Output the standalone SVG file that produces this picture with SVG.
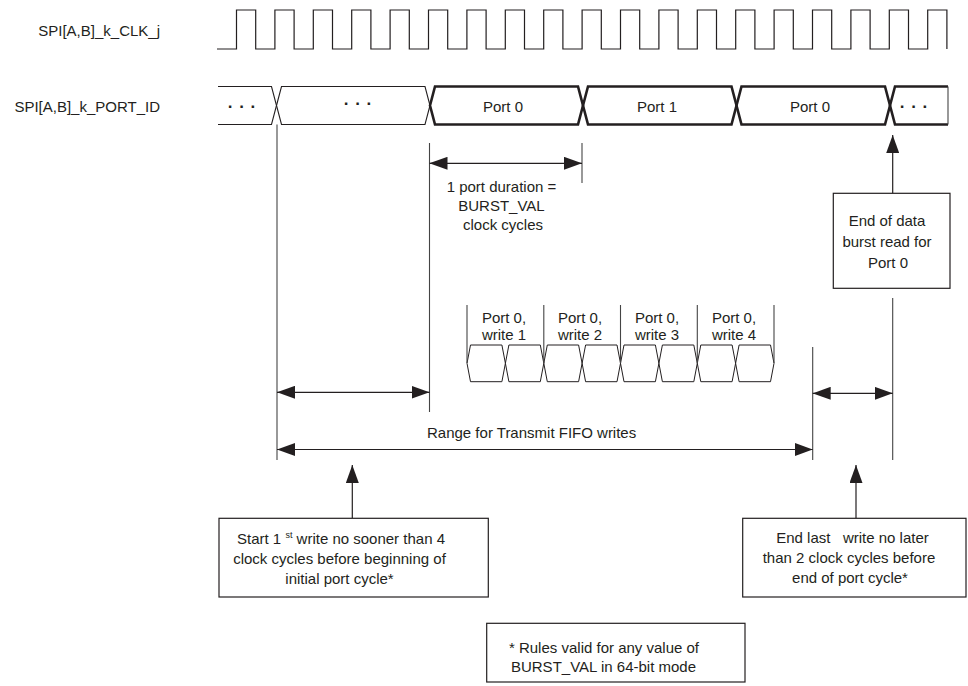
<svg xmlns="http://www.w3.org/2000/svg" width="968" height="686" viewBox="0 0 968 686">
<defs>
<marker id="ah" markerUnits="userSpaceOnUse" markerWidth="18" markerHeight="13" refX="18" refY="6.5" orient="auto-start-reverse" viewBox="0 0 18 13">
<path d="M0,0 L18,6.5 L0,13 z" fill="#231f20"/>
</marker>
</defs>
<style>
text{font-family:"Liberation Sans",Arial,Helvetica,sans-serif;font-size:15px;fill:#231f20}
.c{text-anchor:middle}
.e{text-anchor:end}
.dots{font-size:17px;font-weight:bold;letter-spacing:1px}
.sig{fill:none;stroke:#231f20;stroke-width:1.2}
.bus{fill:none;stroke:#231f20;stroke-width:1.1}
.busb{fill:none;stroke:#231f20;stroke-width:2.6;stroke-linejoin:miter}
.hex{fill:none;stroke:#231f20;stroke-width:1}
.vl{fill:none;stroke:#444;stroke-width:1.1}
.arr{fill:none;stroke:#231f20;stroke-width:1.2;marker-start:url(#ah);marker-end:url(#ah)}
.up{fill:none;stroke:#231f20;stroke-width:1.2;marker-end:url(#ah)}
.box{fill:#fff;stroke:#231f20;stroke-width:1.2}
</style>

<g id="labels">
<text class="e" x="160" y="35.5">SPI[A,B]_k_CLK_j</text>
<text class="e" x="160" y="111.5">SPI[A,B]_k_PORT_ID</text>
</g>

<g id="clk">
<path class="sig" d="M217,49 H236.5 V10 H255.7 V49 H274.9 V10 H294.1 V49 H313.3 V10 H332.5 V49 H351.7 V10 H370.9 V49 H390.1 V10 H409.3 V49 H428.5 V10 H447.7 V49 H466.9 V10 H486.1 V49 H505.3 V10 H524.5 V49 H543.7 V10 H562.9 V49 H582.1 V10 H601.3 V49 H620.5 V10 H639.7 V49 H658.9 V10 H678.1 V49 H697.3 V10 H716.5 V49 H735.7 V10 H754.9 V49 H774.1 V10 H793.3 V49 H812.5 V10 H831.7 V49 H850.9 V10 H870.1 V49 H889.3 V10 H908.5 V49 H927.7 V10 H946.9 V49"/>
</g>

<g id="port-id">
<path class="bus" d="M218,86.5 H271.5 L276.5,105.5 L271.5,124.5 H218"/>
<text class="c dots" x="242" y="108">. . .</text>
<polygon class="bus" points="276.5,105.5 281.5,86.5 425,86.5 430,105.5 425,124.5 281.5,124.5"/>
<text class="c dots" x="358" y="104.5">. . .</text>
<polygon class="busb" points="430,105.5 435,86.5 578,86.5 583,105.5 578,124.5 435,124.5"/>
<text class="c" x="503" y="111.5">Port 0</text>
<polygon class="busb" points="583,105.5 588,86.5 731.5,86.5 736.5,105.5 731.5,124.5 588,124.5"/>
<text class="c" x="657" y="111.5">Port 1</text>
<polygon class="busb" points="736.5,105.5 741.5,86.5 885,86.5 890,105.5 885,124.5 741.5,124.5"/>
<text class="c" x="810" y="111.5">Port 0</text>
<path class="busb" d="M948,86.5 H895 L890,105.5 L895,124.5 H948"/>
<line class="vl" x1="948" y1="86.5" x2="948" y2="124.5" stroke-width="0.8"/>
<text class="c dots" x="914" y="108">. . .</text>
</g>

<g id="writes">
<polygon class="hex" points="467,363.3 470.5,345 501.9,345 505.4,363.3 501.9,381.7 470.5,381.7"/>
<polygon class="hex" points="505.4,363.3 508.9,345 540.3,345 543.8,363.3 540.3,381.7 508.9,381.7"/>
<polygon class="hex" points="543.8,363.3 547.3,345 578.6,345 582.1,363.3 578.6,381.7 547.3,381.7"/>
<polygon class="hex" points="582.1,363.3 585.6,345 617,345 620.5,363.3 617,381.7 585.6,381.7"/>
<polygon class="hex" points="620.5,363.3 624,345 655.4,345 658.9,363.3 655.4,381.7 624,381.7"/>
<polygon class="hex" points="658.9,363.3 662.4,345 693.8,345 697.3,363.3 693.8,381.7 662.4,381.7"/>
<polygon class="hex" points="697.3,363.3 700.8,345 732.1,345 735.6,363.3 732.1,381.7 700.8,381.7"/>
<polygon class="hex" points="735.6,363.3 739.1,345 770.5,345 774,363.3 770.5,381.7 739.1,381.7"/>
<line class="vl" x1="467" y1="305" x2="467" y2="363"/>
<line class="vl" x1="543.8" y1="305" x2="543.8" y2="363"/>
<line class="vl" x1="620.5" y1="305" x2="620.5" y2="363"/>
<line class="vl" x1="697.3" y1="305" x2="697.3" y2="363"/>
<line class="vl" x1="774" y1="305" x2="774" y2="363"/>
<text class="c" x="504" y="322.5">Port 0,</text>
<text class="c" x="504" y="340">write 1</text>
<text class="c" x="580" y="322.5">Port 0,</text>
<text class="c" x="580" y="340">write 2</text>
<text class="c" x="657" y="322.5">Port 0,</text>
<text class="c" x="657" y="340">write 3</text>
<text class="c" x="734" y="322.5">Port 0,</text>
<text class="c" x="734" y="340">write 4</text>
</g>

<g id="connectors">
<line class="vl" x1="277" y1="124.5" x2="277" y2="460"/>
<line class="vl" x1="429.5" y1="143" x2="429.5" y2="412"/>
<line class="vl" x1="582" y1="143" x2="582" y2="183"/>
<line class="vl" x1="812.7" y1="347" x2="812.7" y2="460"/>
<line class="vl" x1="892.7" y1="298" x2="892.7" y2="460"/>
<line class="arr" x1="429.5" y1="163.3" x2="582" y2="163.3"/>
<line class="arr" x1="277" y1="392.3" x2="429.5" y2="392.3"/>
<line class="arr" x1="277" y1="449.5" x2="812.7" y2="449.5"/>
<line class="arr" x1="812.7" y1="393.3" x2="892.7" y2="393.3"/>
<line class="up" x1="892.7" y1="193.3" x2="892.7" y2="135"/>
<line class="up" x1="352.3" y1="518.3" x2="352.3" y2="465"/>
<line class="up" x1="856" y1="518.3" x2="856" y2="465"/>
</g>

<g id="duration-label">
<text class="c" x="501.5" y="192">1 port duration =</text>
<text class="c" x="501.5" y="211">BURST_VAL</text>
<text class="c" x="503" y="230">clock cycles</text>
</g>

<g id="range-label">
<text x="427" y="438">Range for Transmit FIFO writes</text>
</g>

<g id="end-of-burst">
<rect class="box" x="833.3" y="193.3" width="116.7" height="95"/>
<text class="c" x="887" y="226">End of data</text>
<text class="c" x="887" y="247">burst read for</text>
<text class="c" x="888" y="268">Port 0</text>
</g>

<g id="start-rule">
<rect class="box" x="219" y="518.3" width="269.3" height="78.7"/>
<text class="c" x="341" y="544">Start 1 <tspan font-size="9" dy="-6">st</tspan><tspan dy="6"> write no sooner than 4</tspan></text>
<text class="c" x="339.5" y="564">clock cycles before beginning of</text>
<text class="c" x="339.5" y="584">initial port cycle*</text>
</g>

<g id="end-rule">
<rect class="box" x="742.7" y="518.3" width="223.3" height="78.7"/>
<text class="c" x="852.5" y="543" xml:space="preserve">End last   write no later</text>
<text class="c" x="849" y="563">than 2 clock cycles before</text>
<text class="c" x="850" y="583">end of port cycle*</text>
</g>

<g id="note">
<rect class="box" x="486.7" y="623.3" width="258.3" height="58.7"/>
<text class="c" x="604" y="652.7">* Rules valid for any value of</text>
<text class="c" x="603.5" y="671.7">BURST_VAL in 64-bit mode</text>
</g>
</svg>
